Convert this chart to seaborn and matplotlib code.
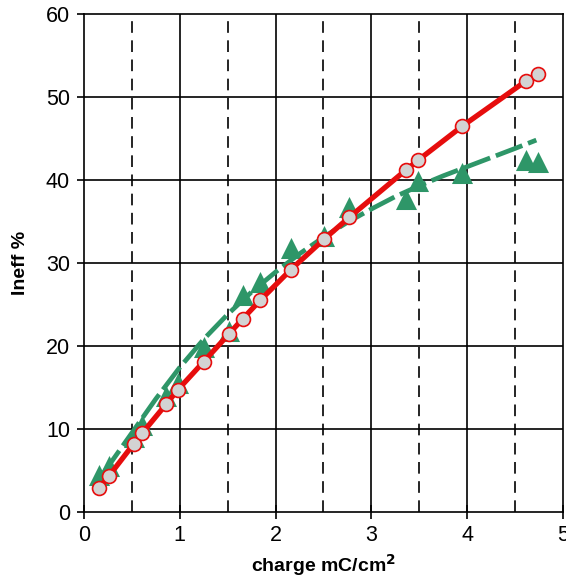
import matplotlib
matplotlib.use("Agg")
import matplotlib.pyplot as plt
import seaborn as sns
import pandas as pd
from matplotlib.ticker import MultipleLocator

# measured points (charge in mC/cm2)
charge = [0.16, 0.26, 0.52, 0.61, 0.86, 0.98, 1.25, 1.51, 1.66, 1.84,
          2.16, 2.51, 2.77, 3.36, 3.49, 3.95, 4.61, 4.74]
ineff_red = [2.9, 4.3, 8.2, 9.5, 13.0, 14.7, 18.1, 21.4, 23.3, 25.5,
             29.2, 32.9, 35.5, 41.2, 42.4, 46.5, 51.9, 52.8]
ineff_green = [4.5, 5.6, 9.0, 10.5, 14.0, 15.6, 19.9, 21.8, 26.1, 27.7,
               31.8, 33.3, 36.7, 37.7, 39.9, 40.8, 42.4, 42.2]

# green dashed trend
fit_x = [0.2, 0.5, 0.75, 1.0, 1.25, 1.5, 1.75, 2.0, 2.25, 2.5, 2.75, 3.0,
         3.25, 3.5, 3.75, 4.0, 4.25, 4.5, 4.72]
fit_y = [4.6, 9.5, 13.6, 17.4, 20.8, 23.8, 26.5, 28.9, 31.1, 33.1, 34.9,
         36.5, 38.0, 39.3, 40.5, 41.6, 42.7, 43.8, 44.8]

df = pd.DataFrame({"charge": charge, "red": ineff_red, "green": ineff_green})
fit = pd.DataFrame({"x": fit_x, "y": fit_y})

sns.set_style("white")
plt.rcParams["font.family"] = ["Liberation Sans", "DejaVu Sans"]
plt.rcParams["text.color"] = "black"
plt.rcParams["axes.labelcolor"] = "black"
plt.rcParams["xtick.color"] = "black"
plt.rcParams["ytick.color"] = "black"

RED = "#e60d0d"
GREEN = "#2e9668"

fig = plt.figure(figsize=(5.66, 5.79), dpi=100)
ax = fig.add_axes([0.148, 0.1157, 0.847, 0.8603])

# grid
for x in [1, 2, 3, 4]:
    ax.axvline(x, color="black", lw=1.2, zorder=1)
for x in [0.5, 1.5, 2.5, 3.5, 4.5]:
    ax.axvline(x, color="black", lw=1.2, ls=(0, (7, 4.5)), zorder=1)
for y in [10, 20, 30, 40, 50]:
    ax.axhline(y, color="black", lw=1.2, zorder=1)

sns.scatterplot(data=df, x="charge", y="green", marker="^", s=230,
                color=GREEN, edgecolor=GREEN, linewidth=0, ax=ax, zorder=2)
sns.lineplot(data=fit, x="x", y="y", color=GREEN, lw=3.4, ax=ax, zorder=3,
             dashes=False)
ax.lines[-1].set_dashes([6, 1.3])
sns.lineplot(data=df, x="charge", y="red", color=RED, lw=3.8, ax=ax, zorder=4)
sns.scatterplot(data=df, x="charge", y="red", marker="o", s=100,
                color="#d3d3d3", edgecolor=RED, linewidth=1.2, ax=ax, zorder=5)

ax.set_xlim(0, 5)
ax.set_ylim(0, 60)
ax.xaxis.set_major_locator(MultipleLocator(1))
ax.xaxis.set_minor_locator(MultipleLocator(0.5))
ax.yaxis.set_major_locator(MultipleLocator(10))
ax.tick_params(axis="x", which="major", direction="inout", length=10, width=1.2,
               labelsize=15.5, pad=4)
ax.tick_params(axis="x", which="minor", direction="in", length=5, width=1.2)
ax.tick_params(axis="y", which="major", direction="out", length=5, width=1.2,
               labelsize=15.5, left=True, pad=5)
ax.tick_params(axis="x", bottom=True)

for s in ax.spines.values():
    s.set_color("black")
    s.set_linewidth(1.2)

ax.set_xlabel("charge mC/cm$^\\mathbf{2}$", fontsize=14, fontweight="bold", labelpad=5)
ax.set_ylabel("Ineff %", fontsize=14, fontweight="bold", labelpad=12)

fig.savefig("out.png", dpi=100)
